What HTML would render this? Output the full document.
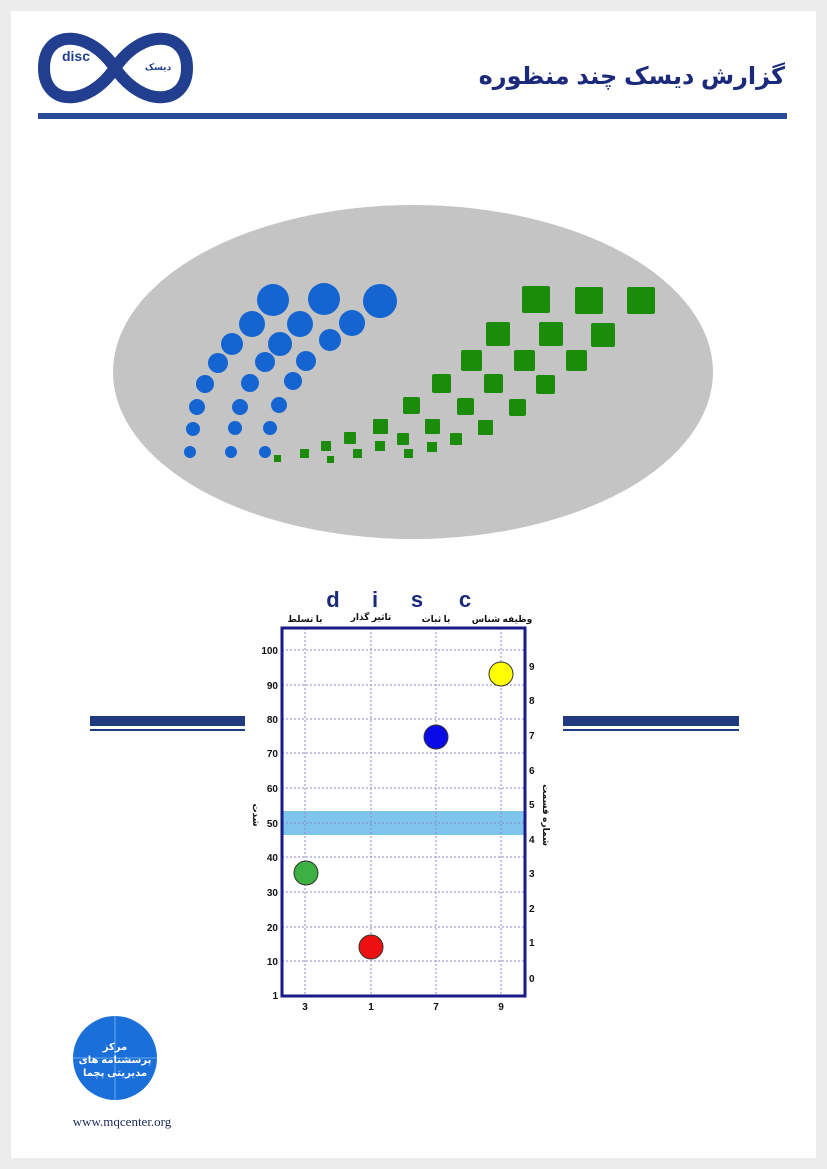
<!DOCTYPE html>
<html><head><meta charset="utf-8"><style>
body{margin:0;background:#ececec;}
svg{display:block}
text{font-family:"Liberation Sans","DejaVu Sans",sans-serif}
</style></head><body>
<svg width="827" height="1169" viewBox="0 0 827 1169" xmlns="http://www.w3.org/2000/svg">
<rect x="0" y="0" width="827" height="1169" fill="#ececec"/>
<rect x="11" y="11" width="805" height="1147" fill="#fff"/>
<g fill="none" stroke="#223f8f" stroke-width="12">
<path d="M115,68 C88,28 44,30 44,68 C44,106 88,108 115,68 C142,28 187,30 187,68 C187,106 142,108 115,68 Z"/>
</g>
<text x="76" y="61" font-size="14" font-weight="bold" fill="#223f8f" text-anchor="middle">disc</text>
<text x="158" y="70" font-size="9" font-weight="bold" fill="#223f8f" text-anchor="middle">دیسک</text>
<text x="785" y="84" font-size="24" font-weight="bold" fill="#1b2a7a" text-anchor="end">گزارش دیسک چند منظوره</text>
<rect x="38" y="113" width="749" height="6" fill="#2a4a9a"/>
<ellipse cx="413" cy="372" rx="300" ry="167" fill="#c4c4c4"/>
<g fill="#1464d2">
<circle cx="273" cy="300" r="16"/><circle cx="252" cy="324" r="13"/><circle cx="232" cy="344" r="11"/><circle cx="218" cy="363" r="10"/><circle cx="205" cy="384" r="9"/><circle cx="197" cy="407" r="8"/><circle cx="193" cy="429" r="7"/><circle cx="190" cy="452" r="6"/>
<circle cx="324" cy="299" r="16"/><circle cx="300" cy="324" r="13"/><circle cx="280" cy="344" r="12"/><circle cx="265" cy="362" r="10"/><circle cx="250" cy="383" r="9"/><circle cx="240" cy="407" r="8"/><circle cx="235" cy="428" r="7"/><circle cx="231" cy="452" r="6"/>
<circle cx="380" cy="301" r="17"/><circle cx="352" cy="323" r="13"/><circle cx="330" cy="340" r="11"/><circle cx="306" cy="361" r="10"/><circle cx="293" cy="381" r="9"/><circle cx="279" cy="405" r="8"/><circle cx="270" cy="428" r="7"/><circle cx="265" cy="452" r="6"/>
</g>
<g fill="#1a8c0a">
<rect x="522" y="286" width="28" height="27" rx="2"/><rect x="575" y="287" width="28" height="27" rx="2"/><rect x="627" y="287" width="28" height="27" rx="2"/>
<rect x="486" y="322" width="24" height="24" rx="2"/><rect x="539" y="322" width="24" height="24" rx="2"/><rect x="591" y="323" width="24" height="24" rx="2"/>
<rect x="461" y="350" width="21" height="21" rx="2"/><rect x="514" y="350" width="21" height="21" rx="2"/><rect x="566" y="350" width="21" height="21" rx="2"/>
<rect x="432" y="374" width="19" height="19" rx="2"/><rect x="484" y="374" width="19" height="19" rx="2"/><rect x="536" y="375" width="19" height="19" rx="2"/>
<rect x="403" y="397" width="17" height="17" rx="2"/><rect x="457" y="398" width="17" height="17" rx="2"/><rect x="509" y="399" width="17" height="17" rx="2"/>
<rect x="373" y="419" width="15" height="15" rx="1"/><rect x="425" y="419" width="15" height="15" rx="1"/><rect x="478" y="420" width="15" height="15" rx="1"/>
<rect x="344" y="432" width="12" height="12" rx="1"/><rect x="397" y="433" width="12" height="12" rx="1"/><rect x="450" y="433" width="12" height="12" rx="1"/>
<rect x="321" y="441" width="10" height="10"/><rect x="375" y="441" width="10" height="10"/><rect x="427" y="442" width="10" height="10"/>
<rect x="300" y="449" width="9" height="9"/><rect x="353" y="449" width="9" height="9"/><rect x="404" y="449" width="9" height="9"/>
<rect x="274" y="455" width="7" height="7"/><rect x="327" y="456" width="7" height="7"/>
</g>
<rect x="90" y="716" width="155" height="10" fill="#1f3a7f"/><rect x="90" y="729" width="155" height="2" fill="#1f3a7f"/>
<rect x="563" y="716" width="176" height="10" fill="#1f3a7f"/><rect x="563" y="729" width="176" height="2" fill="#1f3a7f"/>
<rect x="282" y="628" width="243" height="368" fill="#fff"/>
<rect x="282" y="811" width="243" height="24" fill="#7fc4ec"/>
<g stroke="#8a8ad0" stroke-width="1" stroke-dasharray="2,2">
<line x1="305" y1="628" x2="305" y2="996"/><line x1="371" y1="628" x2="371" y2="996"/><line x1="436" y1="628" x2="436" y2="996"/><line x1="501" y1="628" x2="501" y2="996"/>
<line x1="282" y1="650" x2="525" y2="650"/><line x1="282" y1="685" x2="525" y2="685"/><line x1="282" y1="719" x2="525" y2="719"/><line x1="282" y1="753" x2="525" y2="753"/><line x1="282" y1="788" x2="525" y2="788"/><line x1="282" y1="823" x2="525" y2="823"/><line x1="282" y1="857" x2="525" y2="857"/><line x1="282" y1="892" x2="525" y2="892"/><line x1="282" y1="927" x2="525" y2="927"/><line x1="282" y1="961" x2="525" y2="961"/>
</g>
<rect x="282" y="628" width="243" height="368" fill="none" stroke="#1a1a8a" stroke-width="3"/>
<g font-size="10" font-weight="bold" fill="#111" text-anchor="end">
<text x="278" y="654">100</text><text x="278" y="689">90</text><text x="278" y="723">80</text><text x="278" y="757">70</text><text x="278" y="792">60</text><text x="278" y="827">50</text><text x="278" y="861">40</text><text x="278" y="896">30</text><text x="278" y="931">20</text><text x="278" y="965">10</text><text x="278" y="999">1</text>
</g>
<g font-size="10" font-weight="bold" fill="#111">
<text x="529" y="670">9</text><text x="529" y="704">8</text><text x="529" y="739">7</text><text x="529" y="774">6</text><text x="529" y="808">5</text><text x="529" y="843">4</text><text x="529" y="877">3</text><text x="529" y="912">2</text><text x="529" y="946">1</text><text x="529" y="982">0</text>
</g>
<g font-size="10" font-weight="bold" fill="#111" text-anchor="middle">
<text x="305" y="1010">3</text><text x="371" y="1010">1</text><text x="436" y="1010">7</text><text x="501" y="1010">9</text>
</g>
<g font-size="22" font-weight="bold" fill="#1b2a7a" text-anchor="middle">
<text x="333" y="607">d</text><text x="375" y="607">i</text><text x="417" y="607">s</text><text x="465" y="607">c</text>
</g>
<g font-size="9" font-weight="bold" fill="#111" text-anchor="middle">
<text x="305" y="622">با تسلط</text><text x="371" y="620">تاثیر گذار</text><text x="436" y="622">با ثبات</text><text x="502" y="622">وظیفه شناس</text>
</g>
<text x="0" y="0" font-size="9" font-weight="bold" fill="#111" text-anchor="middle" transform="translate(253,815) rotate(90)">شدت</text>
<text x="0" y="0" font-size="9" font-weight="bold" fill="#111" text-anchor="middle" transform="translate(543,815) rotate(90)">شماره قسمت</text>
<circle cx="501" cy="674" r="12" fill="#ffff00" stroke="#333" stroke-width="1"/>
<circle cx="436" cy="737" r="12" fill="#0a0ae8" stroke="#333" stroke-width="1"/>
<circle cx="306" cy="873" r="12" fill="#3cb043" stroke="#333" stroke-width="1"/>
<circle cx="371" cy="947" r="12" fill="#ee1010" stroke="#333" stroke-width="1"/>
<circle cx="115" cy="1058" r="42" fill="#1a6fd8"/>
<g stroke="#6aa8ee" stroke-width="1" fill="none"><line x1="73" y1="1058" x2="157" y2="1058"/><line x1="115" y1="1016" x2="115" y2="1100"/></g>
<g font-size="10" font-weight="bold" fill="#fff" text-anchor="middle">
<text x="115" y="1050">مرکز</text><text x="115" y="1063">پرسشنامه های</text><text x="115" y="1076">مدیریتی پچما</text>
</g>
<text x="122" y="1126" font-size="13" fill="#1b2a5a" text-anchor="middle" style="font-family:'Liberation Serif',serif">www.mqcenter.org</text>
</svg>
</body></html>
